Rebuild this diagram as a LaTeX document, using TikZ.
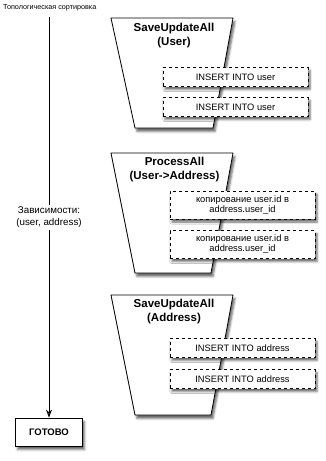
\documentclass[tikz,border=0pt]{standalone}
\usepackage{fontspec}
\setmainfont{Liberation Sans}
\usetikzlibrary{arrows.meta,shadows.blur}
\tikzset{
  stage/.style={draw, line width=0.8pt, fill=white,
    blur shadow={shadow xshift=2pt, shadow yshift=-3.5pt, shadow opacity=60}},
  stagetitle/.style={align=center, font=\fontsize{11.5}{14}\selectfont\bfseries},
  query/.style={draw, dashed, line width=0.8pt, fill=white, minimum width=145pt,
    minimum height=19pt, inner sep=2pt, align=center, font=\fontsize{9.3}{10}\selectfont,
    blur shadow={shadow xshift=2pt, shadow yshift=-3pt, shadow opacity=60}},
  donebox/.style={draw, line width=0.8pt, fill=white, minimum width=67pt,
    minimum height=28pt, font=\fontsize{9.5}{11}\selectfont\bfseries,
    blur shadow={shadow xshift=2pt, shadow yshift=-3.5pt, shadow opacity=60}},
}
\begin{document}
\begin{tikzpicture}[x=1pt,y=-1pt]
\useasboundingbox (0,0) rectangle (326,461);
\node[anchor=west, inner sep=0pt, font=\fontsize{7.2}{8}\selectfont] (sorting) at (3,8) {Топологическая сортировка};
\draw[stage] (111,18) -- (233,18) -- (213,128) -- (135,128) -- cycle;
\draw[stage] (111,153) -- (233,153) -- (211,273) -- (135,273) -- cycle;
\draw[stage] (111,295) -- (233,295) -- (211,415) -- (135,415) -- cycle;
\node[stagetitle] (saveuser) at (174,35.5) {SaveUpdateAll\\(User)};
\node[stagetitle] (process) at (174.5,170) {ProcessAll\\(User->Address)};
\node[stagetitle] (saveaddr) at (174,311.5) {SaveUpdateAll\\(Address)};
\node[query] (insuser1) at (235.5,77) {INSERT INTO user};
\node[query] (insuser2) at (235.5,107) {INSERT INTO user};
\node[query, minimum height=28pt] (copy1) at (242.5,205) {копирование user.id в\\address.user\_id};
\node[query, minimum height=28pt] (copy2) at (242.5,244.5) {копирование user.id в\\address.user\_id};
\node[query] (insaddr1) at (242.5,348) {INSERT INTO address};
\node[query] (insaddr2) at (242.5,379) {INSERT INTO address};
\coordinate (start) at (49,17);
\node[donebox] (done) at (49,432) {ГОТОВО};
\draw[-{Stealth[length=8pt,width=6pt]}, line width=0.8pt] (start) -- node[fill=white, align=center, inner sep=2pt, font=\fontsize{9.8}{12}\selectfont] (deps) {Зависимости:\\(user, address)} (done);
\end{tikzpicture}
\end{document}
